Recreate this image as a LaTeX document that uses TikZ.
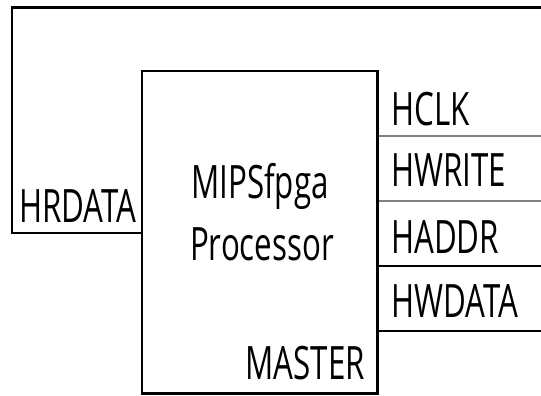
\documentclass[tikz,border=0pt]{standalone}
\usepackage{fontspec}
\newfontfamily\sigfont{Open Sans}[FakeStretch=0.68]
\usetikzlibrary{positioning}
\begin{document}
\begin{tikzpicture}[x=1pt,y=1pt,font=\sigfont\fontsize{46}{62}\selectfont]
\tikzstyle{lbl}=[inner sep=0pt,anchor=base west]
\tikzstyle{bus}=[line width=2.2pt]
\useasboundingbox (0,0) rectangle (541,396);
% processor block
\node[draw,line width=2.5pt,minimum width=235.5pt,minimum height=322.5pt,inner sep=0pt] (cpu) at (259.75,163.75) {};
\node[inner sep=0pt,anchor=base] (mips) at (260,197) {MIPSfpga};
\node[inner sep=0pt,anchor=base] (proc) at (262,135) {Processor};
\node[inner sep=0pt,anchor=base east] (master) at (365,16) {MASTER};
% read data comes back round the top
\coordinate (tr) at (541,388.5);
\coordinate (tl) at (12,388.5);
\coordinate (hr) at (12,163);
\draw[bus,line join=miter] (tr) -- (tl) -- (hr) -- (cpu.west |- hr);
\node[lbl] (hrdata) at (19,173) {HRDATA};
% outputs to the bus
\foreach \n/\t/\b/\y/\w/\c in {clk/HCLK/270/260/1.2pt/gray,write/HWRITE/209.5/195/1.2pt/gray,addr/HADDR/142/130/2.2pt/black,wdata/HWDATA/78/65/2.2pt/black} {
  \coordinate (e\n) at (541,\y);
  \draw[line width=\w,draw=\c] (cpu.east |- e\n) -- (e\n);
  \node[lbl] (l\n) at (391,\b) {\t};
}
\end{tikzpicture}
\end{document}
